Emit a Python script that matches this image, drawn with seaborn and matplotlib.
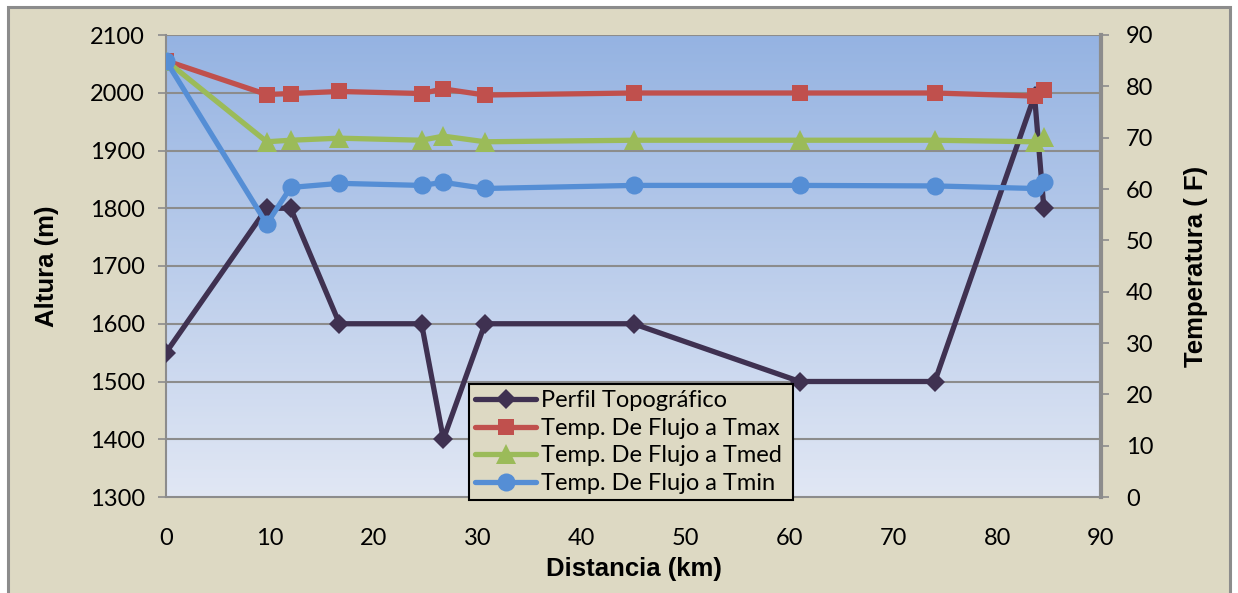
import numpy as np
import pandas as pd
import matplotlib
matplotlib.use("Agg")
import matplotlib.pyplot as plt
from matplotlib.patches import Rectangle
import seaborn as sns

# Distance along the profile (km)
distancia = [0, 9.7, 12.0, 16.7, 24.6, 26.7, 30.7, 45.0, 61.0, 74.0, 83.6, 84.5]
# Terrain elevation (m)
altura = [1550, 1800, 1800, 1600, 1600, 1400, 1600, 1600, 1500, 1500, 1995, 1800]
# Flow temperatures (F)
t_max = [85.0, 78.4, 78.6, 79.0, 78.6, 79.5, 78.3, 78.7, 78.7, 78.7, 78.1, 79.3]
t_med = [85.0, 69.2, 69.5, 69.9, 69.5, 70.3, 69.2, 69.5, 69.5, 69.5, 69.2, 70.2]
t_min = [85.0, 53.2, 60.3, 61.1, 60.7, 61.3, 60.1, 60.7, 60.7, 60.6, 60.1, 61.3]

labels = ["Perfil Topográfico", "Temp. De Flujo a Tmax",
          "Temp. De Flujo a Tmed", "Temp. De Flujo a Tmin"]
colors = ["#3f3151", "#c0504d", "#9bbb59", "#558ed5"]
x_ticks = list(range(0, 91, 10))
y_ticks = list(range(1300, 2101, 100))
t_ticks = list(range(0, 91, 10))

sns.set_theme(style="white")
plt.rcParams["font.family"] = ["Lato", "DejaVu Sans"]
plt.rcParams["text.color"] = "black"
plt.rcParams["axes.labelcolor"] = "black"
plt.rcParams["xtick.labelcolor"] = "black"
plt.rcParams["ytick.labelcolor"] = "black"

fig = plt.figure(figsize=(12.38, 5.93), dpi=100, facecolor="white")
# Chart-area panel with grey border
fig.patches.append(Rectangle((8 / 1238, -0.01), 1222 / 1238, 1 - 7 / 593 + 0.01,
                             transform=fig.transFigure, facecolor="#ddd9c3",
                             edgecolor="#8c8c8c", linewidth=2.2, zorder=-10))

ax = fig.add_axes([166 / 1238, 1 - 497 / 593, 935 / 1238, 462 / 593])
ax.set_facecolor("none")

# Vertical gradient fill of the plot area
grad = np.linspace(0, 1, 256).reshape(-1, 1)
top = np.array([0.584, 0.702, 0.886])
bot = np.array([0.882, 0.906, 0.957])
img = top[None, None, :] * (1 - grad[:, :, None]) + bot[None, None, :] * grad[:, :, None]
ax.imshow(img, extent=[0, 90, 1300, 2100], aspect="auto", zorder=0,
          origin="upper", interpolation="bicubic")

for y in y_ticks[1:]:
    ax.axhline(y, color="#8c8c8c", lw=1.5, zorder=1)

df_topo = pd.DataFrame({"Distancia": distancia, "Altura": altura})
sns.lineplot(data=df_topo, x="Distancia", y="Altura", ax=ax, color=colors[0],
             lw=3.8, marker="D", markersize=10, markeredgewidth=0,
             label=labels[0], zorder=3, legend=False)

ax.set_xlim(0, 90)
ax.set_ylim(1300, 2100)
ax.set_xticks(x_ticks)
ax.set_yticks(y_ticks)
ax.set_xlabel("Distancia (km)", family=["Liberation Sans"], fontweight="bold",
              fontsize=18.5, labelpad=6)
ax.set_ylabel("Altura (m)", family=["Liberation Sans"], fontweight="bold",
              fontsize=18.5, labelpad=22)
ax.tick_params(axis="both", labelsize=17, length=6, width=1.2, color="#8c8c8c",
               direction="out", pad=9)
ax.tick_params(axis="x", pad=16)

ax2 = ax.twinx()
ax2.set_facecolor("none")
df_t = pd.DataFrame({"Distancia": distancia, "Tmax": t_max, "Tmed": t_med, "Tmin": t_min})
for col, lab, c, mk, ms in [("Tmax", labels[1], colors[1], "s", 12),
                            ("Tmed", labels[2], colors[2], "^", 14),
                            ("Tmin", labels[3], colors[3], "o", 13)]:
    sns.lineplot(data=df_t, x="Distancia", y=col, ax=ax2, color=c, lw=3.8,
                 marker=mk, markersize=ms, markeredgewidth=0, label=lab,
                 legend=False, zorder=4)
ax2.set_ylim(0, 90)
ax2.set_yticks(t_ticks)
ax2.set_ylabel("Temperatura ( F)", family=["Liberation Sans"], fontweight="bold",
               fontsize=18.5, labelpad=22)
ax2.tick_params(axis="y", labelsize=17, length=6, width=1.2, color="#8c8c8c",
                direction="out", pad=12)
ax2.grid(False)
ax.grid(False)

for a in (ax, ax2):
    for s in a.spines.values():
        s.set_visible(False)
ax.spines["left"].set_visible(True)
ax.spines["left"].set_color("#8c8c8c")
ax.spines["left"].set_linewidth(1.5)
ax.spines["bottom"].set_visible(True)
ax.spines["bottom"].set_color("#8c8c8c")
ax.spines["bottom"].set_linewidth(1.5)
ax2.spines["right"].set_visible(True)
ax2.spines["right"].set_color("#8c8c8c")
ax2.spines["right"].set_linewidth(3)

h1, l1 = ax.get_legend_handles_labels()
h2, l2 = ax2.get_legend_handles_labels()
leg = ax2.legend(h1 + h2, l1 + l2, loc="lower left",
                 bbox_to_anchor=(469 / 1238, 1 - 500 / 593, 324 / 1238, 119 / 593),
                 bbox_transform=fig.transFigure, mode="expand",
                 fontsize=17, frameon=True, fancybox=False, framealpha=1,
                 facecolor="#ddd9c3", edgecolor="black", borderpad=0.25,
                 labelspacing=0.28, handlelength=2.6, handletextpad=0.2,
                 borderaxespad=0)
leg.get_frame().set_linewidth(1.5)
leg.set_zorder(10)

fig.savefig("out.png", dpi=100, facecolor="white")
